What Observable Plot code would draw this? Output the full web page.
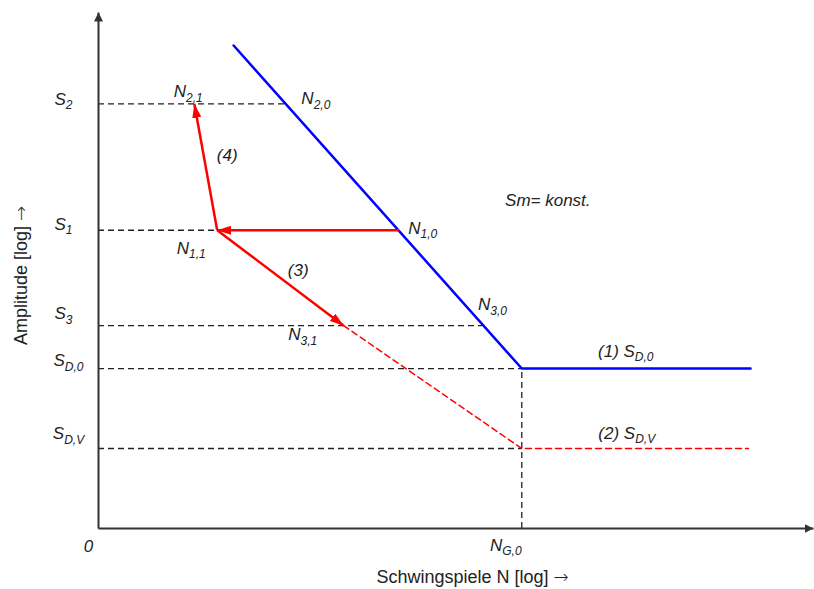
<!DOCTYPE html>
<html>
<head>
<meta charset="utf-8">
<script src="https://cdn.jsdelivr.net/npm/d3@7"></script>
<script src="https://cdn.jsdelivr.net/npm/@observablehq/plot@0.6"></script>
<style>
  html, body { margin: 0; padding: 0; background: #fff; }
  #chart { width: 814px; height: 589px; }
</style>
</head>
<body>
<div id="chart"></div>
<script>
// ---- data (schematic log units) ----
const xDomain = [0, 10];   // log N
const yDomain = [0, 10];   // log S

const levelNames = ["S_{2}", "S_{1}", "S_{3}", "S_{D,0}", "S_{D,V}"];
const levelS     = [8.23, 5.78, 3.93, 3.10, 1.55];
const levelEndN  = [2.62, 1.66, 5.37, 5.92, 5.92];

const woehlerN = [1.89, 5.92, 9.12];   // (1) original curve
const woehlerS = [9.36, 3.10, 3.10];
const damagedN = [3.43, 5.92, 9.09];   // (2) after damage
const damagedS = [3.93, 1.55, 1.55];

const pointNames = ["N_{2,1}", "N_{2,0}", "N_{1,0}", "N_{1,1}", "N_{3,0}", "N_{3,1}", "N_{G,0}"];
const pointN     = [1.34, 2.62, 4.20, 1.66, 5.37, 3.43, 5.92];
const pointS     = [8.23, 8.23, 5.78, 5.78, 3.93, 3.93, 0];

const arrowFrom = ["N_{1,0}", "N_{1,1}", "N_{1,1}"];
const arrowTo   = ["N_{1,1}", "N_{2,1}", "N_{3,1}"];

const noteTexts  = ["(1) S_{D,0}", "(2) S_{D,V}", "(3)", "(4)", "Sm= konst."];
const noteAnchor = ["N_{G,0}*D0", "N_{G,0}*DV", "N_{1,1}", "N_{1,1}", "N_{1,0}"];

const xTitle = "Schwingspiele N [log] →";
const yTitle = "Amplitude [log] →";
const originLabel = "0";

// ---- layout (pixel offsets of labels) ----
const levelOffset = {"S_{2}": [-35, -4.5], "S_{1}": [-35, -6], "S_{3}": [-35, -12], "S_{D,0}": [-30, -7.5], "S_{D,V}": [-30, -14.5]};
const pointOffset = {"N_{2,1}": [-6, -12], "N_{2,0}": [30, -5], "N_{1,0}": [24, -2], "N_{1,1}": [-26, 18], "N_{3,0}": [10, -21], "N_{3,1}": [-41, 9], "N_{G,0}": [-16, 17]};
const noteOffset = {"(1) S_{D,0}": [104, -17], "(2) S_{D,V}": [105, -15], "(3)": [81, 40], "(4)": [10, -75], "Sm= konst.": [149, -30]};

// ---- derived tables ----
const pt = new Map(pointNames.map((n, i) => [n, {x: pointN[i], y: pointS[i]}]));
pt.set("N_{G,0}*D0", {x: woehlerN[1], y: woehlerS[1]});
pt.set("N_{G,0}*DV", {x: damagedN[1], y: damagedS[1]});

const levels = levelNames.map((name, i) => ({name, S: levelS[i], end: levelEndN[i]}));
const points = pointNames.map((name, i) => ({name, N: pointN[i], S: pointS[i]}));
const woehler = woehlerN.map((N, i) => ({N, S: woehlerS[i]}));
const damaged = damagedN.map((N, i) => ({N, S: damagedS[i]}));
const arrows = arrowFrom.map((f, i) => ({x1: pt.get(f).x, y1: pt.get(f).y, x2: pt.get(arrowTo[i]).x, y2: pt.get(arrowTo[i]).y}));
const notes = noteTexts.map((t, i) => ({t, x: pt.get(noteAnchor[i]).x, y: pt.get(noteAnchor[i]).y}));

// custom filled-triangle marker
function tri(len, wid) {
  return (color, context) => {
    const ns = "http://www.w3.org/2000/svg";
    const m = context.document.createElementNS(ns, "marker");
    m.setAttribute("viewBox", `${-len} ${-wid / 2} ${len} ${wid}`);
    m.setAttribute("markerWidth", len);
    m.setAttribute("markerHeight", wid);
    m.setAttribute("markerUnits", "userSpaceOnUse");
    m.setAttribute("refX", 0);
    m.setAttribute("refY", 0);
    m.setAttribute("orient", "auto");
    const p = context.document.createElementNS(ns, "path");
    p.setAttribute("d", `M${-len},${-wid / 2}L0,0L${-len},${wid / 2}Z`);
    p.setAttribute("fill", color);
    p.setAttribute("stroke", "none");
    m.appendChild(p);
    return m;
  };
}

const FONT = "'Liberation Sans', Arial, Helvetica, sans-serif";
const INK = "#222";
const dash = "6,4";
const LABEL_SIZE = 17;

const labelMarks = (data, textFn, xFn, yFn, offsets) =>
  data.map(d => {
    const [dx, dy] = offsets[textFn(d)];
    return Plot.text([d], {x: xFn, y: yFn, text: textFn, dx, dy, fontSize: LABEL_SIZE, fontStyle: "italic", fill: INK, textAnchor: "middle", lineAnchor: "middle"});
  });

const chart = Plot.plot({
  width: 814,
  height: 589,
  marginLeft: 98,
  marginRight: 1,
  marginTop: 12,
  marginBottom: 61,
  x: {domain: xDomain, axis: null},
  y: {domain: yDomain, axis: null},
  style: {fontFamily: FONT, background: "#fff", color: INK},
  marks: [
    // dashed guides
    Plot.ruleY(levels, {y: "S", x1: xDomain[0], x2: "end", stroke: INK, strokeWidth: 1.3, strokeDasharray: dash}),
    Plot.ruleX([woehlerN[1]], {x: d => d, y1: yDomain[0], y2: woehlerS[1], stroke: INK, strokeWidth: 1.3, strokeDasharray: dash}),
    // damaged curve (2)
    Plot.line(damaged, {x: "N", y: "S", stroke: "#ff0000", strokeWidth: 1.5, strokeDasharray: dash}),
    // Wöhler curve (1)
    Plot.line(woehler, {x: "N", y: "S", stroke: "#0000ff", strokeWidth: 2.5}),
    // red arrows
    Plot.link(arrows, {x1: "x1", y1: "y1", x2: "x2", y2: "y2", stroke: "#ff0000", strokeWidth: 2.5, markerEnd: tri(14, 9)}),
    // axes
    Plot.link([0], {x1: xDomain[0], y1: yDomain[0], x2: xDomain[0], y2: yDomain[1], stroke: "#333", strokeWidth: 2, markerEnd: tri(9, 9)}),
    Plot.link([0], {x1: xDomain[0], y1: yDomain[0], x2: xDomain[1], y2: yDomain[0], stroke: "#333", strokeWidth: 2, markerEnd: tri(9, 9)}),
    // labels
    ...labelMarks(levels, d => d.name, () => xDomain[0], d => d.S, levelOffset),
    ...labelMarks(points, d => d.name, d => d.N, d => d.S, pointOffset),
    ...labelMarks(notes, d => d.t, d => d.x, d => d.y, noteOffset),
    Plot.text([originLabel], {x: xDomain[0], y: yDomain[0], text: d => d, dx: -10, dy: 18, fontSize: LABEL_SIZE, fontStyle: "italic", fill: INK, lineAnchor: "middle"}),
    // axis titles
    Plot.text([xTitle], {frameAnchor: "bottom", text: d => d, dx: 16.5, dy: 49, fontSize: 18, fill: INK, textAnchor: "middle", lineAnchor: "middle"}),
    Plot.text([yTitle], {frameAnchor: "left", text: d => d, dx: -77, dy: 5, rotate: -90, fontSize: 18, fill: INK, textAnchor: "middle", lineAnchor: "middle"})
  ]
});

// turn "_{...}" into real subscripts, and give the arrow glyph a font with a long arrow
chart.querySelectorAll("text").forEach(el => {
  const s = el.textContent;
  if (!s.includes("_{") && !s.includes("→")) return;
  el.textContent = "";
  const ns = "http://www.w3.org/2000/svg";
  s.split(/(_\{[^}]*\}|→)/).forEach(part => {
    if (!part) return;
    const t = document.createElementNS(ns, "tspan");
    if (part.startsWith("_{")) {
      t.textContent = part.slice(2, -1);
      t.setAttribute("font-size", "12");
      t.setAttribute("dy", "4.5");
    } else if (part === "→") {
      t.textContent = part;
      t.setAttribute("font-family", "'DejaVu Sans', sans-serif");
      t.setAttribute("font-weight", "200");
    } else {
      t.textContent = part;
    }
    el.appendChild(t);
  });
});

document.getElementById("chart").appendChild(chart);
</script>
</body>
</html>
